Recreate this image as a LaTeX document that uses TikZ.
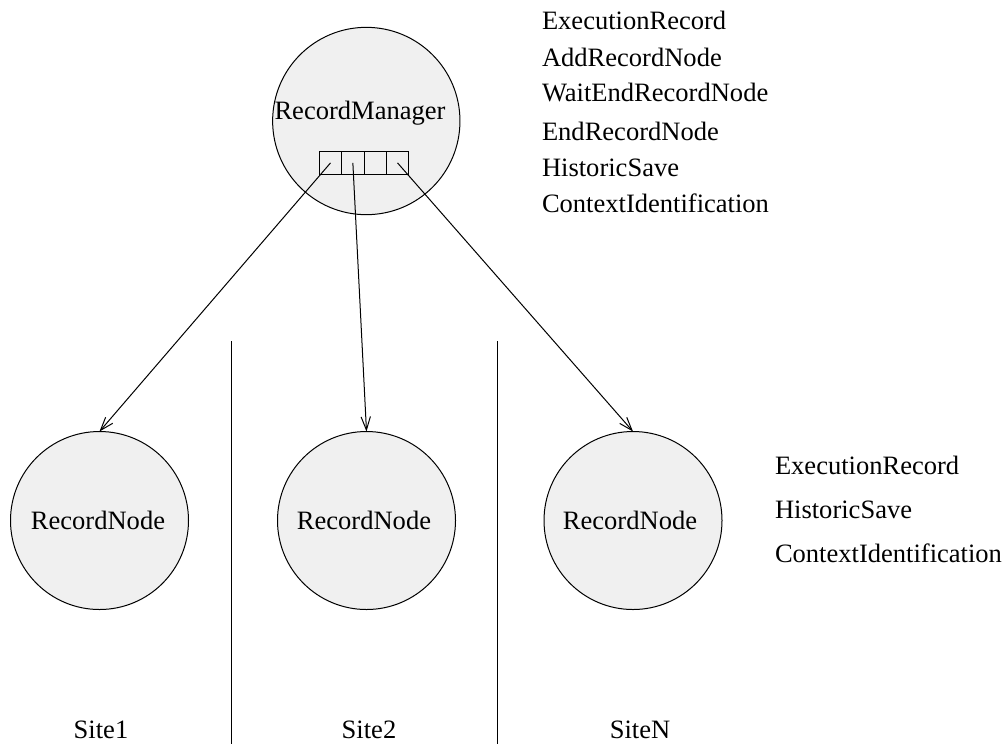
\documentclass[tikz,border=0pt]{standalone}
\usepackage{fontspec}
\setmainfont{Liberation Serif}
\usetikzlibrary{arrows.meta}
\definecolor{nodefill}{RGB}{240,240,240}
\begin{document}
\begin{tikzpicture}[x=0.75pt,y=-0.75pt,
  every node/.style={inner sep=0pt,outer sep=0pt},
  every path/.style={line width=0.75pt},
  txt/.style={font=\fontsize{19.9}{24}\selectfont},
  bigcircle/.style={circle,draw=black,fill=nodefill,minimum size=140.5pt},
  nodecircle/.style={circle,draw=black,fill=nodefill,minimum size=133.5pt},
  cell/.style={rectangle,draw=black,fill=nodefill,minimum width=16.76pt,minimum height=16.7pt},
  link/.style={-{Straight Barb[length=10pt,width=7pt,line width=0.75pt]}},
  divider/.style={line width=0.75pt}]
\useasboundingbox (0,0) rectangle (1005,744);

% manager
\node[bigcircle] (mgr) at (366.3,121) {};
\node[txt,anchor=base] (mgrlabel) at (360,119) {RecordManager};
\node[cell] (c1) at (330.5,162.9) {};
\node[cell] (c2) at (352.85,162.9) {};
\node[cell] (c3) at (375.2,162.9) {};
\node[cell] (c4) at (397.55,162.9) {};

% record nodes
\node[nodecircle] (rn1) at (99.5,520.5) {};
\node[nodecircle] (rn2) at (366.5,520.5) {};
\node[nodecircle] (rn3) at (633,520.5) {};
\node[txt,anchor=base] (rn1label) at (98,529.3) {RecordNode};
\node[txt,anchor=base] (rn2label) at (364,529.3) {RecordNode};
\node[txt,anchor=base] (rn3label) at (630,529.3) {RecordNode};

% connectors
\draw[link] (c1.center) -- (rn1.north);
\draw[link] (c2.center) -- (rn2.north);
\draw[link] (c4.center) -- (rn3.north);

% site dividers
\coordinate (d1top) at (231,341);
\coordinate (d1bot) at (231,744);
\coordinate (d2top) at (497,341);
\coordinate (d2bot) at (497,744);
\draw[divider] (d1top) -- (d1bot);
\draw[divider] (d2top) -- (d2bot);

% site labels
\node[txt,anchor=base] (s1) at (101,738.5) {Site1};
\node[txt,anchor=base] (s2) at (369,738.5) {Site2};
\node[txt,anchor=base] (sn) at (640,738.5) {SiteN};

% manager operations
\node[txt,anchor=base west] (m1) at (542,29.3) {ExecutionRecord};
\node[txt,anchor=base west] (m2) at (542,66.5) {AddRecordNode};
\node[txt,anchor=base west] (m3) at (542,101.7) {WaitEndRecordNode};
\node[txt,anchor=base west] (m4) at (542,140) {EndRecordNode};
\node[txt,anchor=base west] (m5) at (542,176.5) {HistoricSave};
\node[txt,anchor=base west] (m6) at (542,212.5) {ContextIdentification};

% record node operations
\node[txt,anchor=base west] (r1) at (775,474) {ExecutionRecord};
\node[txt,anchor=base west] (r2) at (775,518) {HistoricSave};
\node[txt,anchor=base west] (r3) at (775,562.5) {ContextIdentification};
\end{tikzpicture}
\end{document}
